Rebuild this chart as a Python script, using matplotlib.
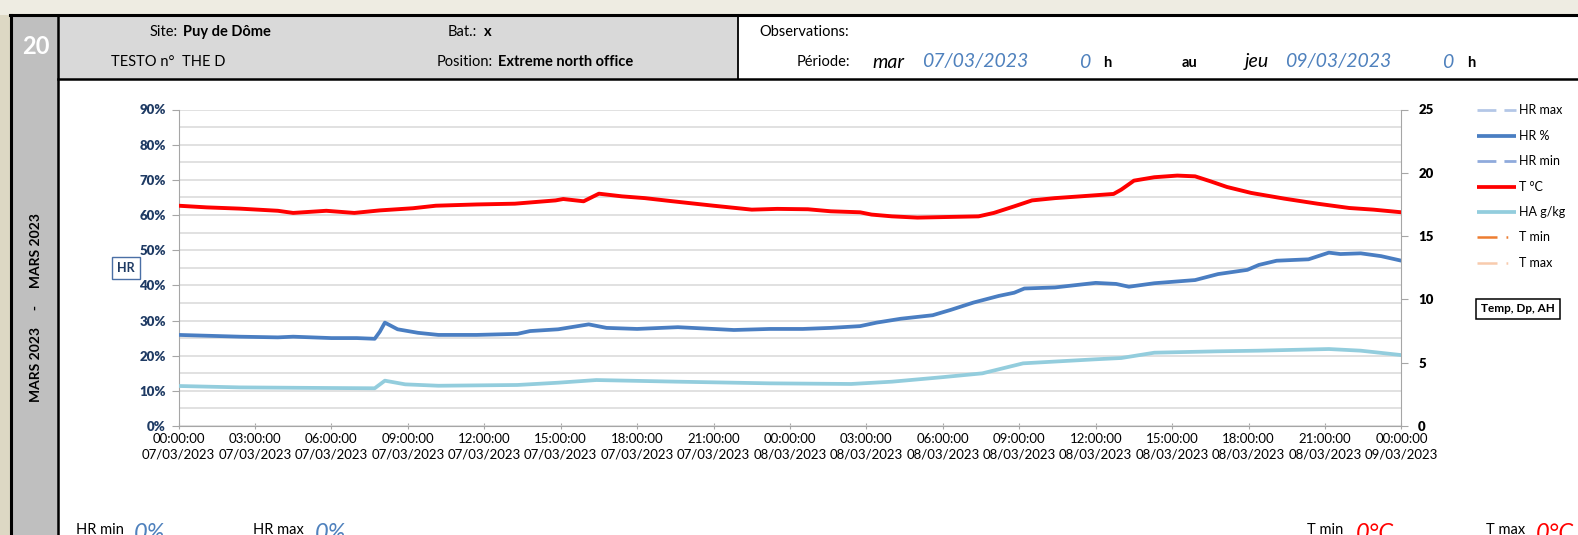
import datetime as dt
import matplotlib
matplotlib.use("Agg")
import matplotlib.pyplot as plt
from matplotlib.lines import Line2D
from matplotlib.patches import Rectangle
from matplotlib.transforms import Affine2D
from matplotlib.ticker import FixedLocator, MultipleLocator

plt.rcParams["font.family"] = ["Lato", "DejaVu Sans"]

# ---------------- data (hours since 07/03/2023 00:00) ----------------
temp_hours = [0.0, 1.1, 2.4, 3.9, 4.5, 5.8, 6.9, 7.9, 9.2, 10.1, 11.7, 13.2, 14.8, 15.1,
              15.9, 16.5, 17.4, 18.3, 19.4, 21.0, 22.5, 23.5, 24.7, 25.6, 26.75, 27.2,
              28.0, 29.0, 29.95, 31.4, 32.0, 32.8, 33.5, 34.4, 35.4, 36.7, 37.0, 37.5,
              38.3, 39.2, 39.9, 40.5, 41.15, 42.1, 43.4, 44.7, 45.95, 46.9, 48.0]
temp_c = [17.4, 17.27, 17.17, 17.0, 16.83, 17.0, 16.83, 17.03, 17.2, 17.4, 17.5, 17.56,
          17.82, 17.93, 17.75, 18.35, 18.14, 18.0, 17.75, 17.4, 17.09, 17.15, 17.12,
          16.96, 16.88, 16.7, 16.56, 16.46, 16.5, 16.56, 16.83, 17.35, 17.82, 18.0,
          18.14, 18.33, 18.67, 19.38, 19.65, 19.78, 19.72, 19.33, 18.88, 18.41, 17.96,
          17.56, 17.22, 17.09, 16.88]

hr_hours = [0.0, 2.4, 3.9, 4.5, 6.0, 7.0, 7.7, 7.9, 8.1, 8.6, 9.4, 10.2, 11.7, 13.3, 13.8,
            14.9, 16.1, 16.8, 18.0, 19.6, 21.8, 23.2, 24.5, 25.6, 26.75, 27.4, 28.35,
            29.6, 30.3, 31.2, 32.2, 32.8, 33.2, 34.4, 36.0, 36.8, 37.3, 38.3, 39.9,
            40.8, 41.95, 42.4, 43.1, 44.35, 45.15, 45.6, 46.4, 47.2, 48.0]
hr_pct = [25.9, 25.4, 25.2, 25.4, 25.0, 25.0, 24.8, 26.8, 29.4, 27.5, 26.5, 25.9, 25.9,
          26.2, 27.0, 27.5, 28.9, 27.9, 27.6, 28.1, 27.3, 27.6, 27.6, 27.9, 28.4, 29.4,
          30.5, 31.5, 33.0, 35.1, 37.0, 37.9, 39.1, 39.4, 40.7, 40.4, 39.6, 40.6, 41.5,
          43.2, 44.4, 45.8, 47.0, 47.4, 49.3, 48.9, 49.1, 48.3, 47.0]

ha_hours = [0.0, 2.4, 6.0, 7.7, 8.1, 8.9, 10.2, 13.3, 14.9, 16.4, 19.6, 23.2, 26.4, 28.0,
            29.95, 31.55, 33.15, 36.0, 37.0, 38.3, 40.8, 42.4, 45.15, 46.4, 48.0]
ha_gkg = [3.16, 3.05, 3.0, 2.98, 3.58, 3.29, 3.18, 3.24, 3.42, 3.63, 3.5, 3.37, 3.32,
          3.5, 3.85, 4.16, 4.95, 5.27, 5.37, 5.79, 5.9, 5.95, 6.08, 5.95, 5.6]

start = dt.datetime(2023, 3, 7, 0, 0, 0)
tick_hours = list(range(0, 49, 3))
tick_labels = [(start + dt.timedelta(hours=h)).strftime("%H:%M:%S\n%d/%m/%Y") for h in tick_hours]
hr_ticks = list(range(0, 91, 10))
t_ticks = list(range(0, 26, 5))

legend_labels = ["HR max", "HR %", "HR min", "T °C", "HA g/kg", "T min", "T max"]

# ---------------- figure ----------------
W, H = 1578, 535
fig = plt.figure(figsize=(W / 100, H / 100), dpi=100, facecolor="#EEECE2")
P = Affine2D().scale(1 / W, -1 / H).translate(0, 1) + fig.transFigure  # pixel coords, top-left origin


def rect(x0, y0, x1, y1, color, z=0):
    fig.add_artist(Rectangle((x0, y1), x1 - x0, y0 - y1, transform=P, facecolor=color,
                             edgecolor="none", zorder=z))


def line(xs, ys, lw, color="black", z=2, **kw):
    fig.add_artist(Line2D(xs, ys, transform=P, lw=lw, color=color, zorder=z, **kw))


def text(x, y, s, size, ha="left", va="center", **kw):
    return fig.text(x, y, s, transform=P, fontsize=size, ha=ha, va=va, **kw)


rect(0, 15, 11, H, "#DDD8C4", z=0)
rect(11, 15, W, H, "white", z=0)
rect(11, 15, 58, H, "#BFBFBF", z=0)
rect(58, 15, 738, 79, "#D9D9D9", z=0)
line([10, W], [15, 15], 2.2)
line([11, 11], [15, H], 2.2)
line([58, 58], [15, H], 1.8)
line([58, W], [79, 79], 1.8)
line([738, 738], [15, 79], 1.3)

text(36, 47, "20", 17, ha="center", color="white", fontweight="bold")
text(36, 308, "MARS 2023     -     MARS 2023", 10, ha="center", rotation=90,
     fontweight="bold", color="black")

# header left
text(178, 32, "Site:", 10.5, ha="right")
text(183, 32, "Puy de Dôme", 10.5, fontweight="bold")
text(111, 62, "TESTO n°  THE D", 10.5)
text(477, 32, "Bat.:", 10.5, ha="right")
text(484, 32, "x", 10.5, fontweight="bold")
text(493, 62, "Position:", 10.5, ha="right")
text(498, 62, "Extreme north office", 10.5, fontweight="bold")
# header right
blue_txt = "#4F81BD"
text(759, 32, "Observations:", 10.5)
text(797, 62, "Période:", 10.5)
text(872, 63, "mar", 14, style="italic")
text(922, 62, "07/03/2023", 14, style="italic", color=blue_txt)
text(1079, 63, "0", 14, style="italic", color=blue_txt)
text(1103, 63, "h", 10.5, fontweight="bold")
text(1182, 63, "au", 10.5, fontweight="bold")
text(1245, 62, "jeu", 14, style="italic")
text(1285, 62, "09/03/2023", 14, style="italic", color=blue_txt)
text(1442, 63, "0", 14, style="italic", color=blue_txt)
text(1467, 63, "h", 10.5, fontweight="bold")

# bottom summary row (cut by the figure edge like the reference)
text(76, 534, "HR min", 10.5, va="baseline")
text(134, 540, "0%", 17, va="baseline", style="italic", color=blue_txt)
text(253, 534, "HR max", 10.5, va="baseline")
text(315, 540, "0%", 17, va="baseline", style="italic", color=blue_txt)
text(1307, 534, "T min", 10.5, va="baseline")
text(1356, 540, "0°C", 17, va="baseline", style="italic", color="#FF0000")
text(1486, 534, "T max", 10.5, va="baseline")
text(1536, 540, "0°C", 17, va="baseline", style="italic", color="#FF0000")

# ---------------- chart ----------------
xl, xr, yt, yb = 178.5, 1401.5, 109.5, 426.0
ax = fig.add_axes([xl / W, 1 - yb / H, (xr - xl) / W, (yb - yt) / H])
ax.set_facecolor("none")
ax2 = ax.twinx()

blue = "#4A7EC2"
red = "#FF0000"
ha_col = "#93CDDD"

ax.plot(hr_hours, hr_pct, color=blue, lw=2.7, solid_joinstyle="round", zorder=4)
ax2.plot(ha_hours, ha_gkg, color=ha_col, lw=2.7, solid_joinstyle="round", zorder=3)
ax2.plot(temp_hours, temp_c, color=red, lw=2.8, solid_joinstyle="round", zorder=3)

ax.set_xlim(0, 48)
ax.set_ylim(0, 90)
ax2.set_ylim(0, 25)

grid_c = "#D9D9D9"
navy = "#1F3B64"
ax.yaxis.set_major_locator(FixedLocator(hr_ticks))
ax.yaxis.set_minor_locator(MultipleLocator(5))
ax.set_yticklabels([f"{v}%" for v in hr_ticks], fontweight="heavy", fontsize=9.5, color=navy)
ax.grid(axis="y", which="both", color=grid_c, lw=1.1)
ax.xaxis.set_major_locator(FixedLocator(tick_hours))
ax.set_xticklabels(tick_labels, fontsize=9.5, linespacing=1.35)
ax.xaxis.set_minor_locator(FixedLocator(list(range(0, 49, 6))))
ax.grid(axis="x", which="minor", color=grid_c, lw=1.1)
ax.set_axisbelow(True)

ax2.yaxis.set_major_locator(FixedLocator(t_ticks))
ax2.set_yticklabels([str(v) for v in t_ticks], fontweight="heavy", fontsize=9.5, color="black")

for a in (ax, ax2):
    for s in a.spines.values():
        s.set_visible(False)
spine_c = "#A6A6A6"
ax.spines["left"].set_visible(True)
ax.spines["left"].set_color(spine_c)
ax.spines["bottom"].set_visible(True)
ax.spines["bottom"].set_color(spine_c)
ax2.spines["right"].set_visible(True)
ax2.spines["right"].set_color(spine_c)

ax.tick_params(axis="y", which="major", length=5, color=spine_c, pad=4)
ax.tick_params(axis="y", which="minor", length=0)
ax.tick_params(axis="x", which="major", length=4, color=spine_c, direction="inout", pad=3)
ax.tick_params(axis="x", which="minor", length=0)
ax2.tick_params(axis="y", length=5, color=spine_c, pad=7)

# axis title boxes
text(126, 268, "HR", 9, ha="center", fontweight="bold", color=navy,
     bbox=dict(boxstyle="square,pad=0.4", facecolor="white", edgecolor="#4A6FA5", lw=1))
text(1518, 309, "Temp, Dp, AH", 8.5, ha="center", fontweight="bold", color="black",
     bbox=dict(boxstyle="square,pad=0.4", facecolor="white", edgecolor="black", lw=1.1))

# ---------------- legend ----------------
leg_y = [110, 136, 161, 187, 212, 237, 263]
leg_style = [
    dict(color="#B4C7E7", lw=2.0, dashes=(6.8, 2.9)),
    dict(color=blue, lw=2.7),
    dict(color="#8FAADC", lw=2.0, dashes=(6.8, 2.9)),
    dict(color=red, lw=2.7),
    dict(color=ha_col, lw=2.7),
    dict(color="#ED7D31", lw=1.8, dashes=(8, 3.6, 0.7, 12)),
    dict(color="#F8CBAD", lw=1.8, dashes=(8, 3.6, 0.7, 12)),
]
for y, lab, st in zip(leg_y, legend_labels, leg_style):
    line([1477, 1516], [y, y], z=3, solid_capstyle="butt", dash_capstyle="butt", **st)
    text(1519, y, lab, 9)

fig.savefig("out.png", dpi=100, facecolor=fig.get_facecolor())
